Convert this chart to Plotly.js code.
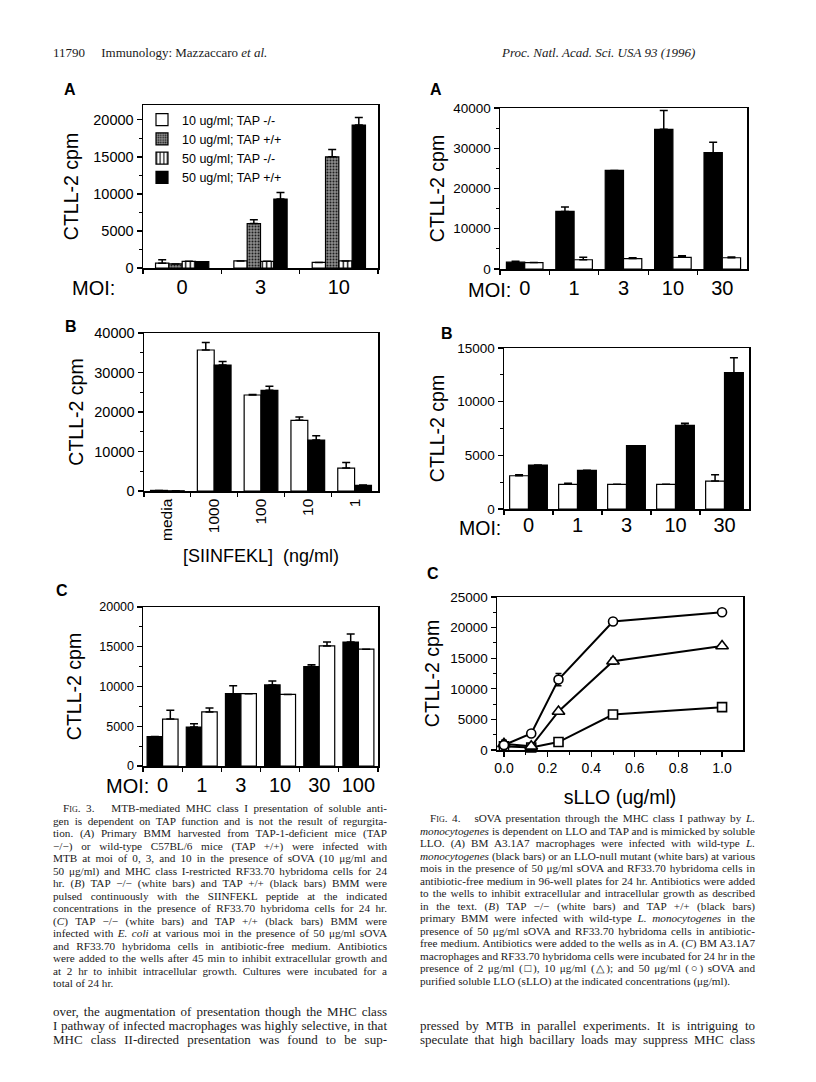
<!DOCTYPE html>
<html><head><meta charset="utf-8">
<script src="https://cdn.plot.ly/plotly-3.0.1.min.js"></script>
<style>
body{margin:0;background:#fff;}
#wrap{position:relative;width:816px;height:1082px;overflow:hidden;background:#fff;}
#plot{position:absolute;left:0;top:0;width:816px;height:1082px;}
.txt{position:absolute;font-family:'Liberation Serif','Times New Roman',serif;color:#1a1a1a;}
.cap{font-size:11.2px;line-height:12.5px;}
.bod{font-size:13px;line-height:14px;}
.j{text-align:justify;text-align-last:justify;white-space:nowrap;}
.l{text-align:left;white-space:nowrap;}
.sc{font-variant:small-caps;}
.hd{font-size:13px;white-space:nowrap;}
</style></head>
<body>
<div id="wrap">
<div id="plot"></div>
<div class="txt hd" style="left:53px;top:45px;">11790&nbsp;&nbsp;&nbsp;&nbsp;&nbsp;Immunology: Mazzaccaro <i>et al.</i></div>
<div class="txt hd" style="left:502px;top:45px;"><i>Proc. Natl. Acad. Sci. USA 93 (1996)</i></div>

<div class="txt cap" style="left:53px;top:802px;width:334px;">
<div class="j" style="padding-left:10px;"><span class="sc">Fig. 3.</span>&nbsp;&nbsp;&nbsp;MTB-mediated MHC class I presentation of soluble anti-</div>
<div class="j">gen is dependent on TAP function and is not the result of regurgita-</div>
<div class="j">tion. (<i>A</i>) Primary BMM harvested from TAP-1-deficient mice (TAP</div>
<div class="j">−/−) or wild-type C57BL/6 mice (TAP +/+) were infected with</div>
<div class="j">MTB at moi of 0, 3, and 10 in the presence of sOVA (10 μg/ml and</div>
<div class="j">50 μg/ml) and MHC class I-restricted RF33.70 hybridoma cells for 24</div>
<div class="j">hr. (<i>B</i>) TAP −/− (white bars) and TAP +/+ (black bars) BMM were</div>
<div class="j">pulsed continuously with the SIINFEKL peptide at the indicated</div>
<div class="j">concentrations in the presence of RF33.70 hybridoma cells for 24 hr.</div>
<div class="j">(<i>C</i>) TAP −/− (white bars) and TAP +/+ (black bars) BMM were</div>
<div class="j">infected with <i>E. coli</i> at various moi in the presence of 50 μg/ml sOVA</div>
<div class="j">and RF33.70 hybridoma cells in antibiotic-free medium. Antibiotics</div>
<div class="j">were added to the wells after 45 min to inhibit extracellular growth and</div>
<div class="j">at 2 hr to inhibit intracellular growth. Cultures were incubated for a</div>
<div class="l">total of 24 hr.</div>
</div>

<div class="txt cap" style="left:420px;top:812px;width:335px;">
<div class="j" style="padding-left:10px;"><span class="sc">Fig. 4.</span>&nbsp;&nbsp;&nbsp;sOVA presentation through the MHC class I pathway by <i>L.</i></div>
<div class="j"><i>monocytogenes</i> is dependent on LLO and TAP and is mimicked by soluble</div>
<div class="j">LLO. (<i>A</i>) BM A3.1A7 macrophages were infected with wild-type <i>L.</i></div>
<div class="j"><i>monocytogenes</i> (black bars) or an LLO-null mutant (white bars) at various</div>
<div class="j">mois in the presence of 50 μg/ml sOVA and RF33.70 hybridoma cells in</div>
<div class="j">antibiotic-free medium in 96-well plates for 24 hr. Antibiotics were added</div>
<div class="j">to the wells to inhibit extracellular and intracellular growth as described</div>
<div class="j">in the text. (<i>B</i>) TAP −/− (white bars) and TAP +/+ (black bars)</div>
<div class="j">primary BMM were infected with wild-type <i>L. monocytogenes</i> in the</div>
<div class="j">presence of 50 μg/ml sOVA and RF33.70 hybridoma cells in antibiotic-</div>
<div class="j">free medium. Antibiotics were added to the wells as in <i>A</i>. (<i>C</i>) BM A3.1A7</div>
<div class="j">macrophages and RF33.70 hybridoma cells were incubated for 24 hr in the</div>
<div class="j">presence of 2 μg/ml (□), 10 μg/ml (△); and 50 μg/ml (○) sOVA and</div>
<div class="l">purified soluble LLO (sLLO) at the indicated concentrations (μg/ml).</div>
</div>

<div class="txt bod" style="left:53px;top:1005px;width:334px;">
<div class="j">over, the augmentation of presentation though the MHC class</div>
<div class="j">I pathway of infected macrophages was highly selective, in that</div>
<div class="j">MHC class II-directed presentation was found to be sup-</div>
</div>
<div class="txt bod" style="left:420px;top:1019px;width:335px;">
<div class="j">pressed by MTB in parallel experiments. It is intriguing to</div>
<div class="j">speculate that high bacillary loads may suppress MHC class</div>
</div>
</div>

<script>
// ---------- DATA ----------
// Fig. 3A
const f3aMoi = ['0', '3', '10'];
const f3aNames = ['10 ug/ml; TAP -/-', '10 ug/ml; TAP +/+', '50 ug/ml; TAP -/-', '50 ug/ml; TAP +/+'];
const f3aW10 = [650, 950, 750];
const f3aW10Err = [450, 0, 0];
const f3aG10 = [550, 6000, 15000];
const f3aG10Err = [0, 500, 1000];
const f3aS50 = [900, 900, 950];
const f3aS50Err = [0, 0, 0];
const f3aB50 = [850, 9300, 19300];
const f3aB50Err = [0, 900, 1000];

// Fig. 3B
const f3bConc = ['media', '1000', '100', '10', '1'];
const f3bWhite = [150, 35700, 24300, 17900, 5800];
const f3bWhiteErr = [0, 1900, 100, 850, 1400];
const f3bBlack = [50, 31900, 25500, 12900, 1400];
const f3bBlackErr = [0, 900, 1000, 1100, 100];

// Fig. 3C
const f3cMoi = ['0', '1', '3', '10', '30', '100'];
const f3cBlack = [3700, 4900, 9100, 10200, 12500, 15600];
const f3cBlackErr = [0, 400, 1000, 500, 250, 1000];
const f3cWhite = [5900, 6800, 9100, 9000, 15100, 14700];
const f3cWhiteErr = [1100, 500, 0, 0, 500, 0];

// Fig. 4A
const f4aMoi = ['0', '1', '3', '10', '30'];
const f4aBlack = [1700, 14300, 24500, 34700, 28900];
const f4aBlackErr = [200, 1100, 0, 4700, 2600];
const f4aWhite = [1600, 2300, 2600, 2900, 2800];
const f4aWhiteErr = [0, 600, 200, 400, 200];

// Fig. 4B
const f4bMoi = ['0', '1', '3', '10', '30'];
const f4bWhite = [3100, 2300, 2300, 2300, 2600];
const f4bWhiteErr = [100, 100, 0, 0, 600];
const f4bBlack = [4100, 3600, 5900, 7800, 12700];
const f4bBlackErr = [0, 0, 0, 200, 1400];

// Fig. 4C
const f4cSllo = [0, 0.125, 0.25, 0.5, 1.0];
const f4cOva2 = [600, 400, 1300, 5800, 7000];
const f4cOva2Err = [0, 0, 0, 0, 0];
const f4cOva10 = [1000, 600, 6300, 14500, 17000];
const f4cOva10Err = [0, 0, 0, 500, 0];
const f4cOva50 = [800, 2700, 11500, 21000, 22500];
const f4cOva50Err = [800, 0, 1000, 600, 0];

// ---------- STYLE / LAYOUT ----------
const W = 816, H = 1082;
const SANS = 'Liberation Sans, Arial, Helvetica, sans-serif';
const xd = (a, b) => [a / W, b / W];
const yd = (top, bot) => [1 - bot / H, 1 - top / H];
const zeros = n => new Array(n).fill(0);

function bar(xa, ya, x, y, err, i, n, gw, marker, name, showlegend) {
  const w = gw / n;
  return {
    type: 'bar', x: x, y: y, xaxis: xa, yaxis: ya, name: name || '',
    showlegend: !!showlegend, width: w, offset: -gw / 2 + i * w,
    marker: Object.assign({ line: { color: 'black', width: 1.2 } }, marker),
    error_y: { type: 'data', symmetric: false, array: err, arrayminus: zeros(err.length),
      color: 'black', thickness: 1.5, width: 4 },
    hoverinfo: 'skip'
  };
}
const WHITE = { color: 'white' };
const BLACK = { color: 'black' };
const GRAY = { color: '#7a7a7a', pattern: { shape: '.', fgcolor: '#1e1e1e', bgcolor: '#8e8e8e', size: 3, solidity: 0.35 } };
const STRIPE = { color: 'white', pattern: { shape: '|', fgcolor: 'black', bgcolor: 'white', size: 4.5, solidity: 0.3 } };

const traces = [
  bar('x', 'y', f3aMoi, f3aW10, f3aW10Err, 0, 4, 0.68, WHITE, f3aNames[0], true),
  bar('x', 'y', f3aMoi, f3aG10, f3aG10Err, 1, 4, 0.68, GRAY, f3aNames[1], true),
  bar('x', 'y', f3aMoi, f3aS50, f3aS50Err, 2, 4, 0.68, STRIPE, f3aNames[2], true),
  bar('x', 'y', f3aMoi, f3aB50, f3aB50Err, 3, 4, 0.68, BLACK, f3aNames[3], true),

  bar('x2', 'y2', f3bConc, f3bWhite, f3bWhiteErr, 0, 2, 0.72, WHITE),
  bar('x2', 'y2', f3bConc, f3bBlack, f3bBlackErr, 1, 2, 0.72, BLACK),

  bar('x3', 'y3', f3cMoi, f3cBlack, f3cBlackErr, 0, 2, 0.79, BLACK),
  bar('x3', 'y3', f3cMoi, f3cWhite, f3cWhiteErr, 1, 2, 0.79, WHITE),

  bar('x4', 'y4', f4aMoi, f4aBlack, f4aBlackErr, 0, 2, 0.74, BLACK),
  bar('x4', 'y4', f4aMoi, f4aWhite, f4aWhiteErr, 1, 2, 0.74, WHITE),

  bar('x5', 'y5', f4bMoi, f4bWhite, f4bWhiteErr, 0, 2, 0.77, WHITE),
  bar('x5', 'y5', f4bMoi, f4bBlack, f4bBlackErr, 1, 2, 0.77, BLACK),
];

function line4c(y, err, sym) {
  return {
    type: 'scatter', mode: 'lines+markers', x: f4cSllo, y: y, xaxis: 'x6', yaxis: 'y6',
    showlegend: false, cliponaxis: false, hoverinfo: 'skip',
    line: { color: 'black', width: 2 },
    marker: { symbol: sym, size: sym === 'triangle-up' ? 11 : 9, color: 'white',
      line: { color: 'black', width: 1.6 } },
    error_y: { type: 'data', array: err, color: 'black', thickness: 1.3, width: 3 }
  };
}
traces.push(line4c(f4cOva2, f4cOva2Err, 'square'));
traces.push(line4c(f4cOva10, f4cOva10Err, 'triangle-up'));
traces.push(line4c(f4cOva50, f4cOva50Err, 'circle'));

function yax(dom, anchor, range, dtick, minor, fs, standoff) {
  return {
    domain: dom, anchor: anchor, range: range, dtick: dtick, tick0: 0, tickformat: 'd',
    showline: true, mirror: true, linecolor: 'black', linewidth: 1.5,
    ticks: 'outside', ticklen: 5, tickwidth: 1.3, tickcolor: 'black',
    showgrid: false, zeroline: false, automargin: false,
    tickfont: { family: SANS, size: fs, color: 'black' },
    minor: { ticks: 'outside', ticklen: 3, tickwidth: 1, tickcolor: 'black', dtick: minor, showgrid: false },
    title: { text: 'CTLL-2 cpm', font: { family: SANS, size: 19.5, color: 'black' }, standoff: standoff },
    fixedrange: true
  };
}
function xcat(dom, anchor, n, fs, angle) {
  return {
    domain: dom, anchor: anchor, type: 'category', range: [-0.5, n - 0.5],
    showline: true, mirror: true, linecolor: 'black', linewidth: 1.5,
    ticks: 'outside', tickson: 'boundaries', ticklen: 4, tickwidth: 1.3, tickcolor: 'black',
    showgrid: false, zeroline: false, automargin: false, tickangle: angle || 0,
    tickfont: { family: SANS, size: fs, color: 'black' }, fixedrange: true
  };
}

const layout = {
  width: W, height: H, margin: { l: 0, r: 0, t: 0, b: 0 },
  paper_bgcolor: 'white', plot_bgcolor: 'white', barmode: 'overlay',
  font: { family: SANS, color: 'black' },
  showlegend: true,
  legend: { x: 142 / W, y: 1 - 105 / H, xanchor: 'left', yanchor: 'top',
    bgcolor: 'rgba(0,0,0,0)', font: { family: SANS, size: 12.5, color: 'black' },
    tracegroupgap: 0, traceorder: 'normal' },
  // Fig 3A
  xaxis: xcat(xd(143, 378), 'y', 3, 20),
  yaxis: yax(yd(105, 268), 'x', [0, 22000], 5000, 2500, 14.5, 9),
  // Fig 3B
  xaxis2: Object.assign(xcat(xd(144, 378), 'y2', 5, 15.5, -90),
    { title: { text: '[SIINFEKL]&nbsp;&nbsp;(ng/ml)', font: { family: SANS, size: 18, color: 'black' }, standoff: 9 } }),
  yaxis2: yax(yd(333, 491), 'x2', [0, 40000], 10000, 5000, 14.5, 5),
  // Fig 3C
  xaxis3: xcat(xd(143, 378), 'y3', 6, 20),
  yaxis3: yax(yd(607, 766), 'x3', [0, 20000], 5000, 2500, 12.5, 12),
  // Fig 4A
  xaxis4: xcat(xd(500, 747), 'y4', 5, 20),
  yaxis4: yax(yd(108, 269), 'x4', [0, 40000], 10000, 5000, 13.5, 3),
  // Fig 4B
  xaxis5: Object.assign(xcat(xd(504, 749), 'y5', 5, 20), { ticklabelstandoff: -3 }),
  yaxis5: yax(yd(348, 509), 'x5', [0, 15000], 5000, 2500, 13.5, 7),
  // Fig 4C
  xaxis6: {
    domain: xd(497, 743), anchor: 'y6', range: [-0.032, 1.096], dtick: 0.2, tick0: 0, tickformat: '.1f',
    showline: true, mirror: true, linecolor: 'black', linewidth: 1.5,
    ticks: 'outside', ticklen: 5, tickwidth: 1.3, tickcolor: 'black',
    minor: { ticks: 'outside', ticklen: 3, tickwidth: 1, tickcolor: 'black', dtick: 0.1, showgrid: false },
    showgrid: false, zeroline: false, automargin: false,
    tickfont: { family: SANS, size: 14, color: 'black' },
    title: { text: 'sLLO (ug/ml)', font: { family: SANS, size: 19.5, color: 'black' }, standoff: 15 },
    fixedrange: true
  },
  yaxis6: yax(yd(597, 750), 'x6', [0, 25000], 5000, 2500, 13.5, 5),
  annotations: [
    { text: '<b>A</b>', x: 70 / W, y: 1 - 90 / H },
    { text: '<b>A</b>', x: 436 / W, y: 1 - 90 / H },
    { text: '<b>B</b>', x: 71 / W, y: 1 - 326 / H },
    { text: '<b>B</b>', x: 447 / W, y: 1 - 333 / H },
    { text: '<b>C</b>', x: 62 / W, y: 1 - 590 / H },
    { text: '<b>C</b>', x: 433 / W, y: 1 - 573 / H },
  ].map(a => Object.assign(a, { xref: 'paper', yref: 'paper', showarrow: false,
      font: { family: SANS, size: 16, color: 'black' }, xanchor: 'center', yanchor: 'middle' }))
   .concat([
    { x: 93 / W, y: 1 - 288 / H, size: 20 },
    { x: 489 / W, y: 1 - 290 / H, size: 20 },
    { x: 480 / W, y: 1 - 528 / H, size: 19.5 },
    { x: 127 / W, y: 1 - 786 / H, size: 20 },
  ].map(a => Object.assign(a, { text: 'MOI:', xref: 'paper', yref: 'paper', showarrow: false, borderpad: 0,
      font: { family: SANS, size: a.size, color: 'black' }, xanchor: 'center', yanchor: 'middle' })))
};
layout.annotations.forEach(a => delete a.size);

Plotly.newPlot('plot', traces, layout, { staticPlot: true, displayModeBar: false });
</script>
</body></html>
